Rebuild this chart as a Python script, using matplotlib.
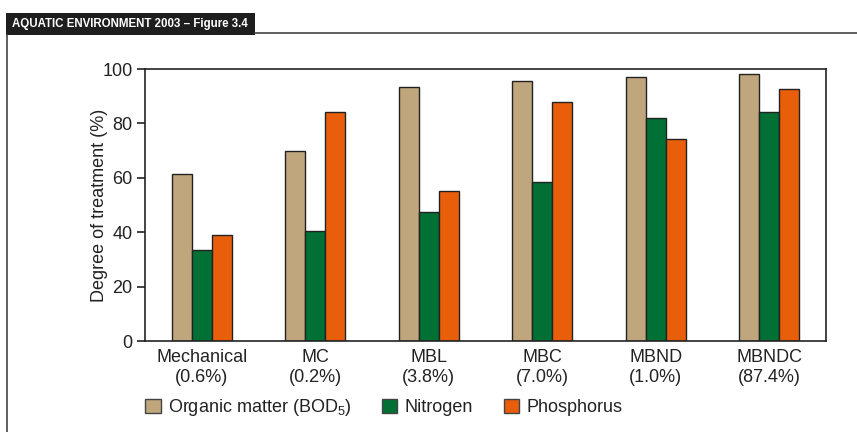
import matplotlib.pyplot as plt
import numpy as np
from matplotlib.patches import Rectangle
from matplotlib.lines import Line2D

categories = ["Mechanical\n(0.6%)", "MC\n(0.2%)", "MBL\n(3.8%)", "MBC\n(7.0%)", "MBND\n(1.0%)", "MBNDC\n(87.4%)"]
organic = [61.4, 70.0, 93.3, 95.6, 97.1, 98.0]
nitrogen = [33.5, 40.5, 47.5, 58.6, 82.0, 84.3]
phosphorus = [38.9, 84.3, 55.3, 87.9, 74.1, 92.7]
series_names = ["Organic matter (BOD$_5$)", "Nitrogen", "Phosphorus"]
colors = ["#BFA67C", "#007034", "#E85E0B"]

plt.rcParams['font.family'] = ['Liberation Sans', 'DejaVu Sans']
plt.rcParams['mathtext.fontset'] = 'custom'
plt.rcParams['mathtext.rm'] = 'Liberation Sans'

fig = plt.figure(figsize=(8.57, 4.32), dpi=100)
W, H = 857, 432
ax = fig.add_axes([145 / W, 1 - 341 / H, 681 / W, 272 / H])

x = np.arange(len(categories))
w = 0.176
for i, vals in enumerate([organic, nitrogen, phosphorus]):
    ax.bar(x + (i - 1) * w, vals, w, color=colors[i], edgecolor="#222222", linewidth=1.0)

ax.set_xlim(-0.5, 5.5)
ax.set_ylim(0, 100)
ax.set_yticks([0, 20, 40, 60, 80, 100])
ax.set_xticks(x)
ax.set_xticklabels(categories, fontsize=13, color="#222222", linespacing=1.2)
ax.tick_params(axis="x", length=0, pad=6)
ax.tick_params(axis="y", length=6, width=1.2, pad=3, labelsize=13, labelcolor="#222222", color="#222222")
for s in ax.spines.values():
    s.set_color("#222222")
    s.set_linewidth(1.2)
ax.set_ylabel("Degree of treatment (%)", fontsize=13, color="#222222", va="center")
ax.yaxis.set_label_coords((100 - 145) / 681, 0.5)

# legend
handles = [Rectangle((0, 0), 1, 1, facecolor=c, edgecolor="#444444", linewidth=1.0) for c in colors]
fig.legend(handles, series_names, loc="center left", bbox_to_anchor=(138 / W, 1 - 408 / H),
           borderaxespad=0, ncol=3, frameon=False, fontsize=13, handlelength=0.85, handleheight=0.85,
           handletextpad=0.4, columnspacing=1.7, labelcolor="#222222")

# header bar
fig.patches.append(Rectangle((6 / W, 1 - 35 / H), 249 / W, 22 / H, transform=fig.transFigure,
                             facecolor="#1E1E1E", edgecolor="none"))
fig.text(12 / W, 1 - 24 / H, "AQUATIC ENVIRONMENT 2003 – Figure 3.4", color="white",
         fontsize=8.3, fontweight="bold", va="center", ha="left")
fig.lines.append(Line2D([255 / W, 1], [1 - 33 / H, 1 - 33 / H], transform=fig.transFigure,
                        color="#444444", linewidth=1.2))
fig.lines.append(Line2D([7 / W, 7 / W], [1 - 35 / H, 0], transform=fig.transFigure,
                        color="#444444", linewidth=1.2))

fig.savefig("out.png", dpi=100)
